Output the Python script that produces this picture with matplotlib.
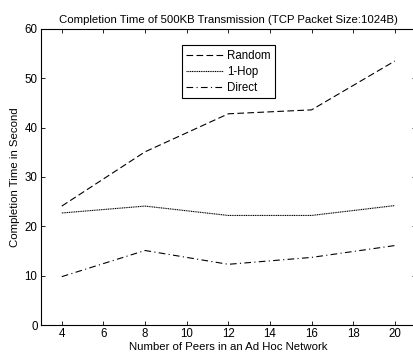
import matplotlib
matplotlib.use("Agg")
import matplotlib.pyplot as plt

plt.rcParams["font.family"] = ["Liberation Sans", "DejaVu Sans"]

# number of peers and completion times
peers = [4, 8, 12, 16, 20]
random_t = [24.1, 35.1, 42.8, 43.6, 53.5]
onehop_t = [22.7, 24.1, 22.2, 22.2, 24.2]
direct_t = [9.8, 15.1, 12.3, 13.7, 16.1]

fig = plt.figure(figsize=(4.14, 3.55), dpi=100)
ax = fig.add_axes([0.099, 0.0845, 0.905, 0.834])

ax.plot(peers, random_t, c="black", linestyle=(0, (6, 3)), linewidth=0.8, label="Random")
ax.plot(peers, onehop_t, c="black", linestyle=(0, (1, 0.6)), linewidth=0.8, label="1-Hop")
ax.plot(peers, direct_t, c="black", linestyle=(0, (6, 3, 1, 3)), linewidth=0.8, label="Direct")

ax.set_xlim(3, 21)
ax.set_ylim(0, 60)
ax.set_xticks(range(4, 21, 2))
ax.set_yticks(range(0, 61, 10))
ax.tick_params(direction="in", top=True, right=True, labelsize=8.3, length=3, width=0.6, pad=2.5)
for s in ax.spines.values():
    s.set_linewidth(0.8)

ax.set_xlabel("Number of Peers in an Ad Hoc Network", fontsize=8.2, labelpad=1)
ax.set_ylabel("Completion Time in Second", fontsize=8.2, labelpad=3)
ax.set_title("Completion Time of 500KB Transmission (TCP Packet Size:1024B)", fontsize=8.2, pad=4)

leg = ax.legend(loc="upper center", bbox_to_anchor=(0.5, 0.965), fontsize=8.3, fancybox=False,
                framealpha=1, edgecolor="black", handlelength=3.2, handletextpad=0.3,
                borderpad=0.4, labelspacing=0.35)
leg.get_frame().set_linewidth(0.8)

plt.savefig("out.png", dpi=100)
